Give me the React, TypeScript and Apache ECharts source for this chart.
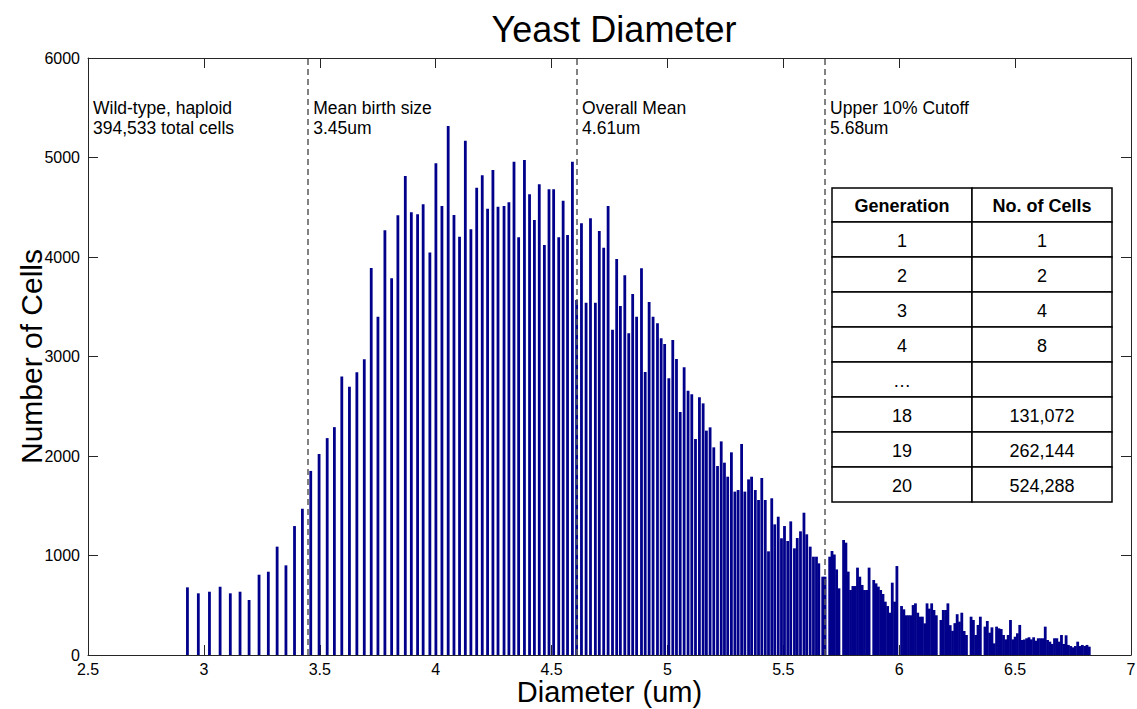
import React, { useEffect, useRef } from 'react';
import * as echarts from 'echarts';

// Individually resolved diameter values (um) and their cell counts
const sparseDiameters = [
  2.929, 2.976, 3.024, 3.07, 3.114, 3.156, 3.195, 3.238, 3.278, 3.316,
  3.354, 3.391, 3.425, 3.461, 3.497, 3.532, 3.563, 3.595, 3.628, 3.66,
  3.692, 3.722, 3.751, 3.781, 3.81, 3.837, 3.869, 3.895, 3.922, 3.946,
  3.975, 4.001, 4.027, 4.054, 4.079, 4.103, 4.128, 4.152, 4.177, 4.201,
  4.224, 4.247, 4.269, 4.295, 4.316, 4.338, 4.358, 4.383, 4.405, 4.426,
  4.447, 4.469, 4.489, 4.509, 4.531, 4.55, 4.569, 4.59, 4.608, 4.629,
  4.649, 4.668, 4.689, 4.706, 4.725, 4.744, 4.763, 4.781, 4.797, 4.816,
  4.833, 4.85, 4.867, 4.888, 4.904, 4.921, 4.938, 4.957, 4.973, 4.988,
  5.006, 5.023, 5.039, 5.055, 5.072, 5.089, 5.105, 5.121, 5.138, 5.154,
  5.168, 5.184, 5.2, 5.216, 5.232, 5.246, 5.26, 5.276, 5.291, 5.305,
  5.32, 5.334, 5.35, 5.363, 5.379, 5.393, 5.407, 5.422, 5.436, 5.45,
  5.463, 5.478, 5.492, 5.505, 5.519, 5.532, 5.548, 5.56, 5.574, 5.589,
  5.601, 5.616, 5.63, 5.643, 5.653,
];

const sparseCounts = [
  680, 620, 636, 686, 620, 636, 553, 807, 837, 1089,
  901, 1296, 1470, 1850, 2020, 2180, 2290, 2800, 2697, 2841,
  2972, 3890, 3400, 4270, 3786, 4420, 4814, 4449, 4429, 4529,
  4044, 4941, 4513, 5317, 4422, 4204, 5169, 4278, 4697, 4821,
  4486, 4874, 4506, 4513, 4550, 4958, 4198, 4975, 4630, 4372,
  4730, 4121, 4680, 4680, 4198, 4566, 4221, 4958, 3568, 4338,
  3541, 4389, 3541, 4261, 4094, 4513, 3270, 3980, 3508, 3816,
  3233, 3628, 3400, 3886, 2844, 3548, 3400, 3333, 3183, 3126,
  2781, 3166, 2975, 2442, 2891, 2657, 2620, 2171, 2590, 2529,
  2255, 2288, 2087, 1899, 2147, 1933, 1792, 2037, 1642, 1658,
  2121, 1642, 1765, 1792, 1658, 1558, 1779, 1558, 1042, 1575,
  1313, 1390, 1173, 1296, 1146, 1343, 1072, 1176, 1243, 1430,
  1213, 1089, 988, 988, 921,
];

// Large diameters: contiguous 0.01 um bins starting at binnedStart
const binnedStart = 5.67;
const binWidth = 0.01;
const binnedCounts = [
  787, 787, 0, 988, 1045, 1010, 860, 670, 0, 1156,
  1129, 838, 653, 693, 693, 878, 787, 704, 653, 653,
  878, 0, 754, 720, 687, 653, 613, 536, 492, 425,
  727, 536, 894, 0, 492, 459, 399, 399, 399, 502,
  519, 425, 385, 385, 318, 519, 466, 519, 452, 399,
  0, 352, 452, 452, 519, 300, 243, 320, 410, 335,
  425, 241, 201, 0, 385, 352, 201, 302, 385, 0,
  285, 342, 224, 278, 117, 285, 268, 261, 201, 157,
  201, 352, 157, 184, 218, 302, 151, 157, 168, 178,
  157, 178, 144, 168, 168, 168, 285, 151, 134, 111,
  168, 168, 134, 201, 111, 198, 101, 90, 77, 90,
  134, 90, 101, 90, 101, 84,
];

const xTicks = { min: 2.5, max: 7, interval: 0.5 };
const yTicks = { min: 0, max: 6000, interval: 1000 };

const referenceLines = [
  { value: 3.45, lines: ['Mean birth size', '3.45um'] },
  { value: 4.61, lines: ['Overall Mean', '4.61um'] },
  { value: 5.68, lines: ['Upper 10% Cutoff', '5.68um'] },
];
const sampleNote = ['Wild-type, haploid', '394,533 total cells'];

const tableHeader = ['Generation', 'No. of Cells'];
const generations = ['1', '2', '3', '4', '…', '18', '19', '20'];
const cellsPerGeneration = ['1', '2', '4', '8', '', '131,072', '262,144', '524,288'];

const FONT = '"Liberation Sans", Arial, Helvetica, sans-serif';
const AXIS_COLOR = '#262626';
const BAR_COLOR = '#00008b';

function buildData(): number[][] {
  const data = sparseDiameters.map((d, i) => [d, sparseCounts[i]]);
  binnedCounts.forEach((c, i) => {
    if (c > 0) data.push([+(binnedStart + i * binWidth).toFixed(2), c]);
  });
  return data;
}

function axisCommon(showLabels: boolean) {
  return {
    axisLine: { show: true, onZero: false, lineStyle: { color: AXIS_COLOR, width: 1 } },
    axisTick: { show: true, inside: true, length: 10, lineStyle: { color: AXIS_COLOR, width: 1 } },
    axisLabel: {
      show: showLabels,
      color: '#000',
      fontFamily: FONT,
      fontSize: 16,
      showMinLabel: true,
      showMaxLabel: true,
      formatter: (v: number) => String(v),
    },
    splitLine: { show: false },
  };
}

export default function App() {
  const ref = useRef<HTMLDivElement>(null);

  useEffect(() => {
    if (!ref.current) return;
    const chart = echarts.init(ref.current, undefined, { renderer: 'svg' });

    const bottomX = axisCommon(true);
    const leftY = axisCommon(true);

    chart.setOption({
      animation: false,
      backgroundColor: '#ffffff',
      title: {
        text: 'Yeast Diameter',
        left: 609,
        top: 6,
        textAlign: 'center',
        textStyle: { fontFamily: FONT, fontSize: 36, fontWeight: 'normal', color: '#000' },
      },
      grid: { left: 88, right: 6, top: 58, bottom: 54, containLabel: false, outerBoundsMode: 'none' },
      xAxis: [
        {
          type: 'value',
          position: 'bottom',
          ...xTicks,
          ...bottomX,
          axisLabel: { ...bottomX.axisLabel, margin: 6 },
          name: 'Diameter (um)',
          nameLocation: 'middle',
          nameGap: 37,
          nameMoveOverlap: false,
          nameTextStyle: { fontFamily: FONT, fontSize: 29, color: '#000', verticalAlign: 'middle' },
        },
        { type: 'value', position: 'top', ...xTicks, ...axisCommon(false) },
      ],
      yAxis: [
        {
          type: 'value',
          position: 'left',
          ...yTicks,
          ...leftY,
          axisLabel: { ...leftY.axisLabel, margin: 8 },
          name: 'Number of Cells',
          nameLocation: 'middle',
          nameGap: 57,
          nameMoveOverlap: false,
          nameTextStyle: { fontFamily: FONT, fontSize: 30, color: '#000', verticalAlign: 'middle' },
        },
        { type: 'value', position: 'right', ...yTicks, ...axisCommon(false) },
      ],
      series: [
        {
          type: 'bar',
          xAxisIndex: 0,
          yAxisIndex: 0,
          data: buildData(),
          barWidth: 2.8,
          itemStyle: { color: BAR_COLOR },
          markLine: {
            silent: true,
            symbol: ['none', 'none'],
            label: { show: false },
            lineStyle: { color: '#5a5a5a', type: [6, 4], width: 1.5 },
            data: referenceLines.map((r) => ({ xAxis: r.value })),
          },
        },
      ],
    });

    const toX = (d: number) => chart.convertToPixel({ xAxisIndex: 0 }, d) as number;
    const plotTop = chart.convertToPixel({ yAxisIndex: 0 }, yTicks.max) as number;

    const textStyle = (text: string, extra: Record<string, unknown> = {}) => ({
      text,
      fontFamily: FONT,
      fontSize: 17.5,
      fill: '#000',
      verticalAlign: 'middle',
      ...extra,
    });

    const noteBlock = (x: number, lines: string[]) =>
      lines.map((t, i) => ({
        type: 'text',
        x,
        y: plotTop + 50 + i * 20,
        style: textStyle(t),
      }));

    // Generation table
    const tLeft = 832;
    const tTop = 188;
    const colW = 140;
    const headH = 34;
    const rowH = 35;
    const table: any[] = [];
    const rows = [tableHeader, ...generations.map((g, i) => [g, cellsPerGeneration[i]])];
    rows.forEach((row, r) => {
      const y = r === 0 ? tTop : tTop + headH + (r - 1) * rowH;
      const h = r === 0 ? headH : rowH;
      row.forEach((cell, c) => {
        const x = tLeft + c * colW;
        table.push({
          type: 'rect',
          shape: { x, y, width: colW, height: h },
          style: { fill: '#fff', stroke: '#000', lineWidth: 1.5 },
        });
        if (cell) {
          table.push({
            type: 'text',
            x: x + colW / 2,
            y: y + h / 2 + 1,
            style: textStyle(cell, {
              fontSize: 18,
              align: 'center',
              fontWeight: r === 0 ? 'bold' : 'normal',
            }),
          });
        }
      });
    });

    chart.setOption({
      graphic: [
        ...noteBlock(toX(xTicks.min) + 5, sampleNote),
        ...referenceLines.flatMap((r) => noteBlock(toX(r.value) + 5, r.lines)),
        ...table,
      ],
    });

    return () => chart.dispose();
  }, []);

  return (
    <div
      ref={ref}
      style={{ position: 'fixed', left: 0, top: 0, width: 1137, height: 709, background: '#fff' }}
    />
  );
}
